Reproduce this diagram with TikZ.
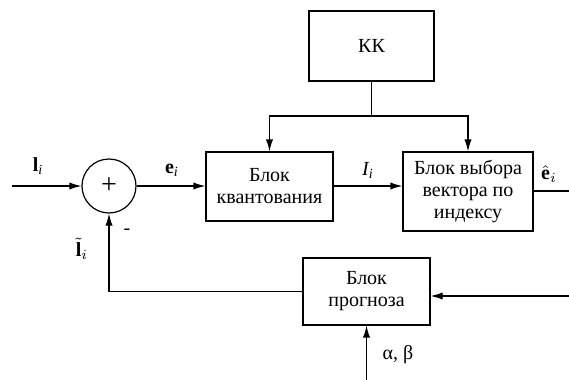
\documentclass[tikz,border=0pt]{standalone}
\usepackage{fontspec}
\setmainfont{Liberation Serif}
\newfontfamily\rusfont{Liberation Serif}
\usetikzlibrary{arrows.meta}

\begin{document}
\begin{tikzpicture}[x=0.5pt,y=0.5pt,yscale=-1,line width=0.6pt,
  blk/.style={draw,rectangle,inner sep=0pt,align=center,font=\rusfont\fontsize{10}{11}\selectfont},
  lbl/.style={inner sep=0pt,font=\rusfont\fontsize{10}{12}\selectfont},
  arr/.style={-{Latex[length=6pt,width=3.6pt]}}]
\useasboundingbox (0,0) rectangle (569,380);

% blocks
\node[blk,minimum width=62.5pt,minimum height=35pt] (kk) at (371.5,46) {КК};
\node[blk,minimum width=63.5pt,minimum height=34.5pt] (quant) at (269.5,186.5) {Блок\\квантования};
\node[blk,minimum width=65pt,minimum height=39.5pt] (sel) at (468,191.5) {Блок выбора\\вектора по\\индексу};
\node[blk,minimum width=63.5pt,minimum height=33.5pt] (pred) at (366.5,291.5) {Блок\\прогноза};
\node[draw,circle,minimum size=27pt,inner sep=0pt,font=\rusfont\fontsize{14}{14}\selectfont] (sum) at (109,186) {+};

% free ends
\coordinate (in) at (12,186);
\coordinate (split) at (371.5,116);
\coordinate (out) at (569,191);
\coordinate (fb) at (569,296);
\coordinate (ab) at (366.5,380);

% connectors
\draw[arr] (in) -- (sum.west);
\draw[arr] (sum.east) -- (sum.east -| quant.west);
\draw[arr] (quant.east |- sum) -- (sel.west |- sum);
\draw (out -| sel.east) -- (out);
\draw (kk.south) -- (split);
\draw[arr] (split) -| (quant.north);
\draw[arr] (split) -| (sel.north);
\draw[arr] (pred.west) -| (sum.south);
\draw[arr] (fb) -- (fb -| pred.east);
\draw[arr] (ab) -- (pred.south);

% labels
\node[lbl] (li) at (38,166) {\textbf{l}\textsubscript{\textit{i}}};
\node[lbl] (ei) at (172,170) {\textbf{e}\textsubscript{\textit{i}}};
\node[lbl] (Ii) at (368,170) {\textit{I\textsubscript{i}}};
\node[lbl] (hei) at (549,174) {$\hat{\mathbf{e}}_i$};
\node[lbl] (tli) at (82,249) {$\tilde{\mathbf{l}}_i$};
\node[lbl] (minus) at (127,232) {-};
\node[lbl] (ab-lbl) at (398,355) {α, β};
\end{tikzpicture}
\end{document}
